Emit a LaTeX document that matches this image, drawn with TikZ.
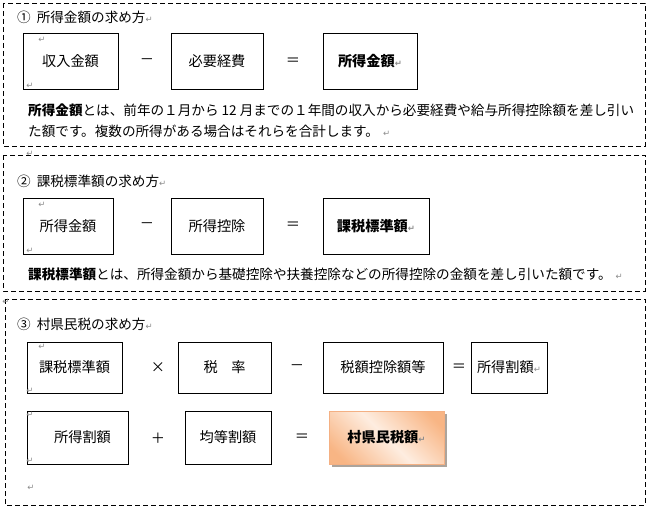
\documentclass[tikz,border=0pt]{standalone}
\usepackage{fontspec}
\setmainfont{Noto Sans CJK JP}
\newfontfamily\dvfont{DejaVu Sans}
\usetikzlibrary{shadows}
\definecolor{retgray}{HTML}{8C8C8C}
\definecolor{pdark}{HTML}{F8B584}
\definecolor{plight}{HTML}{FEEDE0}
\definecolor{pedge}{HTML}{F4B083}
\definecolor{shgray}{HTML}{ACA49C}
\pgfdeclarehorizontalshading{peach}{100bp}{color(0bp)=(pdark); color(22bp)=(pdark); color(50bp)=(plight); color(78bp)=(pdark); color(100bp)=(pdark)}
\newcommand\lblfont{\fontsize{13.6}{16}\selectfont}
\newcommand\boxfont{\fontsize{14.2}{16}\selectfont}
\newcommand\retfont{\dvfont\fontsize{8.5}{9}\selectfont}
\newcommand\retm{{\retfont\textcolor{retgray}{↵}}}
\begin{document}
\begin{tikzpicture}[x=1pt,y=-1pt,
  frame/.style={draw, dash pattern=on 5pt off 3pt, line width=0.8pt},
  termbox/.style={draw, line width=0.8pt, inner sep=0pt, font=\boxfont},
  peachbox/.style={draw=pedge, line width=0.6pt, inner sep=0pt, font=\boxfont,
     shading=peach, shading angle=45,
     drop shadow={shadow xshift=2.5pt, shadow yshift=-2.5pt, fill=shgray, opacity=1}},
  op/.style={inner sep=0pt, font=\boxfont},
  txt/.style={inner sep=0pt, anchor=west, font=\lblfont},
  ret/.style={inner sep=0pt, font=\retfont, text=retgray}]
\useasboundingbox (0,0) rectangle (650,508);
\fill[white] (0,0) rectangle (650,508);

% ---------- section 1 ----------
\draw[frame] (3,3) rectangle (645,146);
\node[txt] (t1) at (17,17) {①\hspace{6pt}所得金額の求め方\retm};
\node[termbox, minimum width=95pt, minimum height=56pt] (b11) at (70.5,61) {収入金額};
\node[op] (o11) at (147,62) {－};
\node[termbox, minimum width=92pt, minimum height=56pt] (b12) at (217,61) {必要経費};
\node[op] (o12) at (293,62) {＝};
\node[termbox, minimum width=94pt, minimum height=56pt] (b13) at (370,61) {\bfseries 所得金額\retm};
\node[ret] (r11) at (42,40) {↵};
\node[ret] (r12) at (30,86) {↵};
\node[txt] (p11) at (28,110) {\textbf{所得金額}とは、前年の１月から 12 月までの１年間の収入から必要経費や給与所得控除額を差し引い};
\node[txt] (p12) at (28,131) {た額です。複数の所得がある場合はそれらを合計します。\hspace{4pt}\retm};

% ---------- section 2 ----------
\draw[frame] (3,155) rectangle (645,291);
\node[ret] (r20) at (30,154) {↵};
\node[txt] (t2) at (17,181) {②\hspace{6pt}課税標準額の求め方\retm};
\node[termbox, minimum width=90pt, minimum height=56pt] (b21) at (68,226) {所得金額};
\node[op] (o21) at (147,226) {－};
\node[termbox, minimum width=92pt, minimum height=56pt] (b22) at (217,226) {所得控除};
\node[op] (o22) at (293,226) {＝};
\node[termbox, minimum width=106pt, minimum height=56pt] (b23) at (376,226) {\bfseries 課税標準額\retm};
\node[ret] (r21) at (42,205) {↵};
\node[ret] (r22) at (30,251) {↵};
\node[txt] (p21) at (28,274) {\textbf{課税標準額}とは、所得金額から基礎控除や扶養控除などの所得控除の金額を差し引いた額です。\hspace{4pt}\retm};

% ---------- section 3 ----------
\draw[frame] (5,299) rectangle (645,505);
\node[ret] (r30) at (6,302) {↵};
\node[txt] (t3) at (17,324) {③\hspace{6pt}村県民税の求め方\retm};
\node[termbox, minimum width=95pt, minimum height=51pt] (b31) at (74.5,367.5) {課税標準額};
\node[op] (o31) at (158,368) {×};
\node[termbox, minimum width=93pt, minimum height=51pt] (b32) at (224.5,367.5) {税\hspace{13.6pt}率};
\node[op] (o32) at (297,368) {－};
\node[termbox, minimum width=120pt, minimum height=51pt] (b33) at (383,367.5) {税額控除額等};
\node[op] (o33) at (459,368) {＝};
\node[termbox, minimum width=76pt, minimum height=51pt] (b34) at (509,367.5) {所得割額\retm};
\node[ret] (r31) at (42,347) {↵};
\node[ret] (r32) at (30,391) {↵};

\node[termbox, minimum width=101pt, minimum height=53pt] (b41) at (77.5,437.5) {\hspace*{10pt}所得割額};
\node[op] (o41) at (158,438) {＋};
\node[termbox, minimum width=86pt, minimum height=53pt] (b42) at (228,437.5) {均等割額};
\node[op] (o42) at (302,438) {＝};
\node[peachbox, minimum width=115pt, minimum height=53pt] (b43) at (386.5,437.5) {\bfseries 村県民税額\retm};
\node[ret] (r41) at (30,415) {↵};
\node[ret] (r42) at (30,461) {↵};
\node[ret] (r43) at (31,488) {↵};
\end{tikzpicture}
\end{document}
